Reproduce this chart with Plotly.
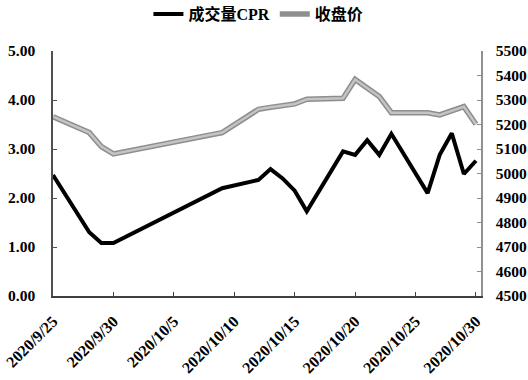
import plotly.graph_objects as go

dates = ["2020-09-25", "2020-09-28", "2020-09-29", "2020-09-30", "2020-10-09",
         "2020-10-12", "2020-10-13", "2020-10-14", "2020-10-15", "2020-10-16",
         "2020-10-19", "2020-10-20", "2020-10-21", "2020-10-22", "2020-10-23",
         "2020-10-26", "2020-10-27", "2020-10-28", "2020-10-29", "2020-10-30"]
cpr = [2.47, 1.30, 1.08, 1.08, 2.20, 2.37, 2.59, 2.40, 2.15, 1.73,
       2.95, 2.88, 3.18, 2.88, 3.31, 2.10, 2.88, 3.32, 2.49, 2.76]
price = [5232, 5167, 5110, 5080, 5167, 5262, 5270, 5277, 5284, 5303,
         5307, 5384, 5349, 5314, 5248, 5248, 5239, 5255, 5273, 5201]

tick_dates = ["2020-09-25", "2020-09-30", "2020-10-05", "2020-10-10",
              "2020-10-15", "2020-10-20", "2020-10-25", "2020-10-30"]
tick_text = ["2020/9/25", "2020/9/30", "2020/10/5", "2020/10/10",
             "2020/10/15", "2020/10/20", "2020/10/25", "2020/10/30"]
left_ticks = [0, 1, 2, 3, 4, 5]
right_ticks = list(range(4500, 5501, 100))

FONT = "Liberation Serif, Times New Roman, Noto Sans CJK SC, serif"

fig = go.Figure()
fig.add_trace(go.Scatter(x=dates, y=cpr, name="成交量CPR", mode="lines",
                         line=dict(color="#000000", width=4), yaxis="y"))
fig.add_trace(go.Scatter(x=dates, y=price, name="收盘价", mode="lines",
                         line=dict(color="#8e8e8e", width=5.5), yaxis="y2",
                         legendgroup="p"))
fig.add_trace(go.Scatter(x=dates, y=price, name="收盘价", mode="lines",
                         line=dict(color="#c4c4c4", width=2.5), yaxis="y2",
                         legendgroup="p", showlegend=False))

yfont = dict(family=FONT, size=15.5, color="#000000", weight="bold")
xfont = dict(family=FONT, size=16, color="#000000", weight="bold")

fig.update_layout(
    width=528, height=380,
    margin=dict(l=53, r=47, t=51, b=84, autoexpand=False),
    paper_bgcolor="white", plot_bgcolor="white",
    showlegend=True,
    legend=dict(orientation="h", x=0.48, xanchor="center", y=1.22, yanchor="top",
                font=dict(family=FONT, size=16, color="#000000", weight="bold"),
                itemwidth=30, tracegroupgap=0),
    xaxis=dict(type="date", range=["2020-09-25", "2020-10-30 10:00"],
               tickvals=tick_dates, ticktext=tick_text, tickangle=-45,
               tickfont=xfont, showgrid=False, zeroline=False,
               showline=True, linecolor="#404040", linewidth=1.5,
               ticks="inside", ticklen=4, tickcolor="#404040",
               ticklabelstandoff=8, automargin=False),
    yaxis=dict(range=[0, 5], tickvals=left_ticks, tickformat=".2f",
               tickfont=yfont, showgrid=False, zeroline=False,
               showline=True, linecolor="#505050", linewidth=1.5,
               ticks="inside", ticklen=4, tickcolor="#505050",
               ticklabelstandoff=13, automargin=False),
    yaxis2=dict(range=[4500, 5500], tickvals=right_ticks, overlaying="y",
                side="right", tickfont=yfont, showgrid=False, zeroline=False,
                showline=True, linecolor="#909090", linewidth=1.5,
                ticks="inside", ticklen=4, tickcolor="#909090",
                ticklabelstandoff=10, automargin=False),
)

fig.write_html("out.html")
